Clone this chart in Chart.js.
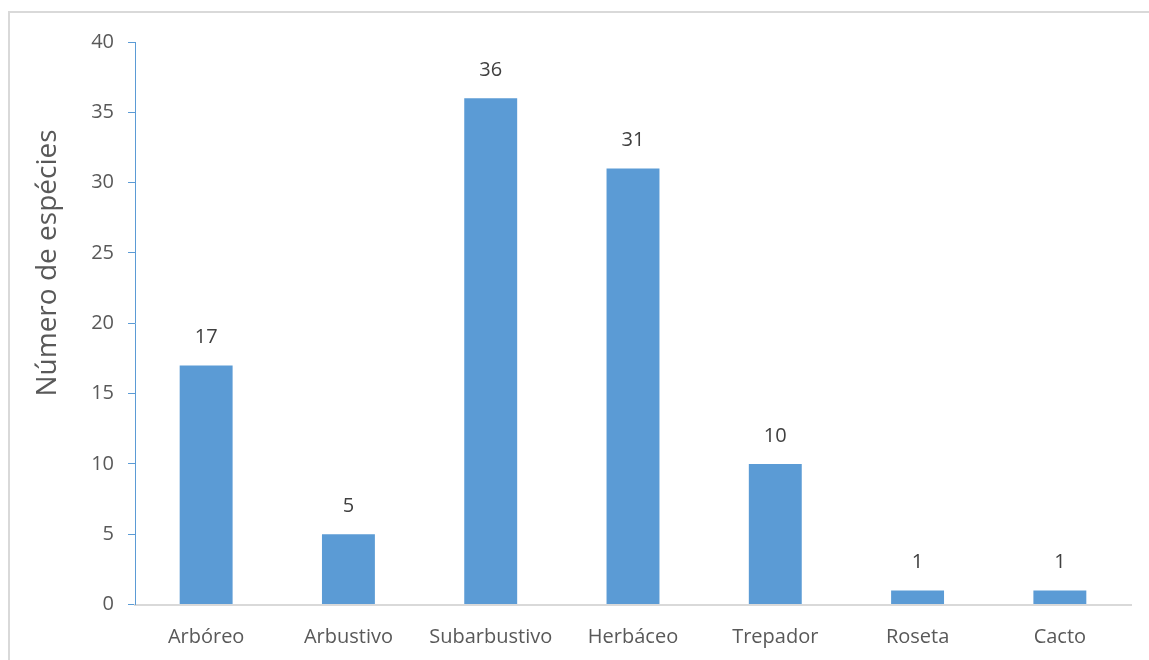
<!DOCTYPE html>
<html>
<head>
<meta charset="utf-8">
<script src="https://cdn.jsdelivr.net/npm/chart.js@4"></script>
<style>
html,body{margin:0;padding:0;background:#fff;}
#wrap{position:relative;width:1149px;height:660px;}
</style>
</head>
<body>
<div id="wrap"><canvas id="c" width="1149" height="660"></canvas></div>
<script>
const categories = ['Arbóreo','Arbustivo','Subarbustivo','Herbáceo','Trepador','Roseta','Cacto'];
const speciesCount = [17,5,36,31,10,1,1];
const yTitle = 'Número de espécies';

const FONT = '"Open Sans", sans-serif';

const borderPlugin = {
  id: 'frame',
  beforeDraw(chart) {
    const ctx = chart.ctx;
    ctx.save();
    ctx.strokeStyle = '#d9d9d9';
    ctx.lineWidth = 2;
    ctx.strokeRect(9, 12, 1300, 800);
    ctx.restore();
  }
};

const yTitlePlugin = {
  id: 'yTitle',
  afterDraw(chart) {
    const ctx = chart.ctx;
    ctx.save();
    ctx.translate(48, 263);
    ctx.rotate(-Math.PI / 2);
    ctx.font = '28px ' + FONT;
    ctx.fillStyle = '#595959';
    ctx.textAlign = 'center';
    ctx.textBaseline = 'middle';
    ctx.fillText(yTitle, 0, 0);
    ctx.restore();
  }
};

const labelPlugin = {
  id: 'valueLabels',
  afterDatasetsDraw(chart) {
    const ctx = chart.ctx;
    const meta = chart.getDatasetMeta(0);
    ctx.save();
    ctx.font = '20px ' + FONT;
    ctx.fillStyle = '#404040';
    ctx.textAlign = 'center';
    ctx.textBaseline = 'middle';
    meta.data.forEach((bar, i) => {
      ctx.fillText(String(chart.data.datasets[0].data[i]), bar.x, bar.y - 28);
    });
    ctx.restore();
  }
};

new Chart(document.getElementById('c'), {
  type: 'bar',
  data: {
    labels: categories,
    datasets: [{
      data: speciesCount,
      backgroundColor: '#5B9BD5',
      borderWidth: 0,
      barPercentage: 0.372,
      categoryPercentage: 1.0
    }]
  },
  options: {
    responsive: false,
    animation: false,
    devicePixelRatio: 1,
    layout: { padding: { left: 31, right: 18, top: 42, bottom: 0 } },
    plugins: { legend: { display: false }, tooltip: { enabled: false } },
    scales: {
      x: {
        grid: { display: false, drawTicks: false },
        border: { color: '#d9d9d9', width: 2 },
        ticks: { color: '#595959', font: { family: FONT, size: 20 }, padding: 21, maxRotation: 0, autoSkip: false },
        afterFit(s) { s.height = 55.5; }
      },
      y: {
        min: 0, max: 40,
        ticks: { stepSize: 5, color: '#595959', font: { family: FONT, size: 20 }, padding: 14 },
        grid: { drawOnChartArea: false, drawTicks: true, tickLength: 7, color: '#5B9BD5' },
        border: { color: '#5B9BD5', width: 1 },
        title: { display: false },
        afterFit(s) { s.width = 104; }
      }
    }
  },
  plugins: [borderPlugin, labelPlugin, yTitlePlugin]
});
</script>
</body>
</html>
